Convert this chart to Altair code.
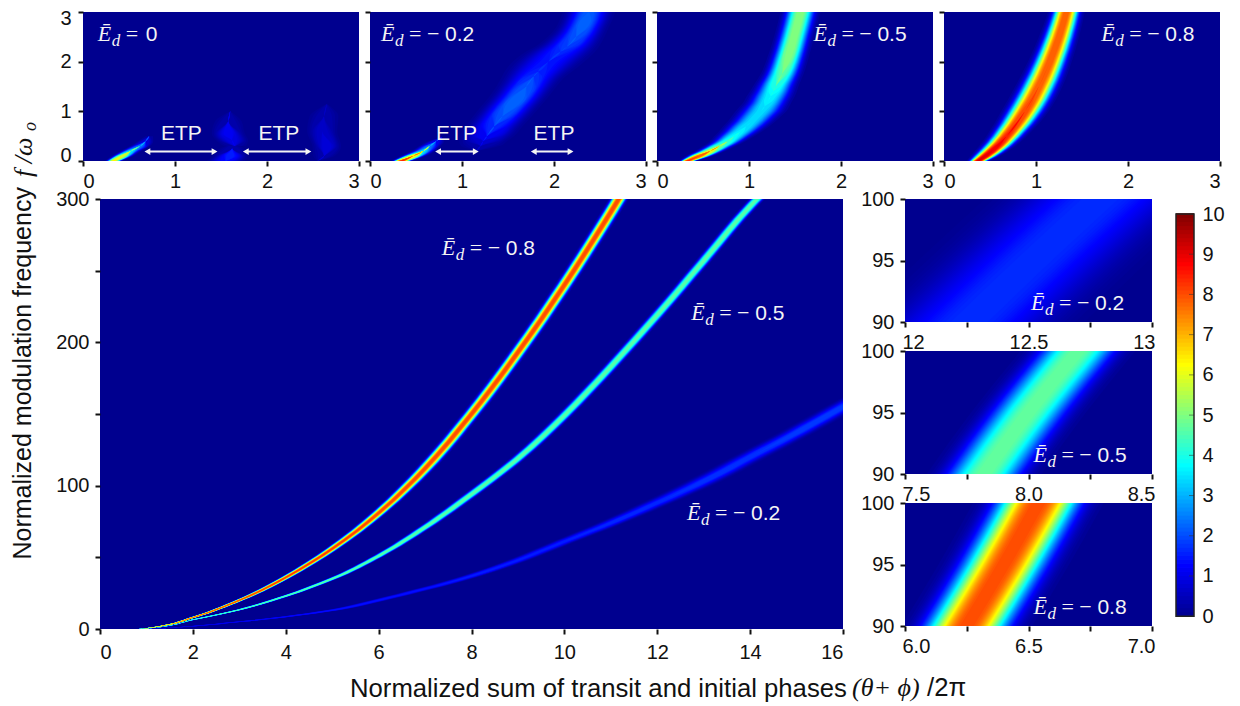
import math
import numpy as np
import pandas as pd
import altair as alt

SANS = "Liberation Sans"
SERIF = "Liberation Serif"
WHITE = "#f4f4f4"

# Colour scale
CB_STOPS = [0, 1.25, 3.75, 6.25, 8.75, 10]
CB_COLORS = ["#00008f", "#0000ff", "#00ffff", "#ffff00", "#ff0000", "#800000"]

# Ridge readings: f = frequency, c = ridge centre, p = peak value, w = full width at half peak
# Main panel
M8_F = [0, 2, 8, 20, 36, 56, 81, 112, 150, 193, 240, 291, 300]
M8_C = [0.85, 1.3, 2, 3, 4, 5, 6, 7, 8, 9, 10, 11, 11.17]
M8_P = [5, 7, 8, 8.2, 8.3, 8.3, 8.2, 8.2, 8.2, 8.2, 8.2, 8.2, 8.2]
M8_W = [0.04, 0.06, 0.08, 0.11, 0.14, 0.17, 0.2, 0.23, 0.23, 0.23, 0.23, 0.23, 0.23]
M5_F = [0, 0.3, 6.5, 13.5, 23, 35, 51, 71, 94, 119, 149, 183, 219, 257, 295, 300]
M5_C = [0.9, 1, 2, 3, 4, 5, 6, 7, 8, 9, 10, 11, 12, 13, 14, 14.15]
M5_P = [3, 3.5, 4.5, 4.7, 4.8, 4.8, 4.8, 4.8, 4.8, 4.8, 4.8, 4.8, 4.8, 4.8, 4.8, 4.8]
M5_W = [0.05, 0.05, 0.07, 0.09, 0.11, 0.13, 0.15, 0.18, 0.2, 0.2, 0.2, 0.2, 0.2, 0.2, 0.2, 0.2]
M2_F = [0, 2, 5, 8.5, 13, 20, 28, 37, 48, 61, 74, 88, 103, 120, 137, 155, 162]
M2_C = [1, 2, 3, 4, 5, 6, 7, 8, 9, 10, 11, 12, 13, 14, 15, 16, 16.4]
M2_P = [0.8, 1.2, 1.3, 1.4, 1.5, 1.5, 1.5, 1.6, 1.6, 1.6, 1.7, 1.7, 1.8, 1.8, 1.9, 1.9, 1.9]
M2_W = [0.1, 0.12, 0.14, 0.16, 0.19, 0.22, 0.24, 0.26, 0.28, 0.31, 0.35, 0.4, 0.45, 0.45, 0.45, 0.45, 0.45]

# Top panels
T0A_F = [0, 0.1, 0.2, 0.3, 0.4, 0.5]
T0A_C = [0.33, 0.43, 0.52, 0.62, 0.68, 0.72]
T0A_P = [6.5, 6, 3.6, 2.5, 1, 0.3]
T0A_W = [0.1, 0.13, 0.13, 0.13, 0.12, 0.1]
T0B_F = [0, 0.1, 0.25, 0.35]
T0B_C = [1.55, 1.6, 1.62, 1.62]
T0B_P = [1.3, 1.6, 0.4, 0.05]
T0B_W = [0.25, 0.22, 0.2, 0.2]
T0C_F = [0.3, 0.42, 0.55, 0.8, 1.0]
T0C_C = [1.65, 1.62, 1.58, 1.58, 1.6]
T0C_P = [0.3, 1.0, 1.2, 0.4, 0.1]
T0C_W = [0.2, 0.22, 0.22, 0.22, 0.2]
T0D_F = [0, 0.1, 0.3, 0.6, 0.9, 1.15]
T0D_C = [2.55, 2.62, 2.65, 2.6, 2.62, 2.65]
T0D_P = [0.1, 0.4, 0.9, 0.7, 0.4, 0.1]
T0D_W = [0.15, 0.18, 0.2, 0.22, 0.24, 0.2]

T2A_F = [0, 0.1, 0.2, 0.3, 0.4, 0.48]
T2A_C = [0.34, 0.47, 0.58, 0.65, 0.72, 0.78]
T2A_P = [8.5, 6.5, 3.5, 2.5, 1.2, 0.2]
T2A_W = [0.12, 0.15, 0.15, 0.14, 0.12, 0.1]
T2B_F = [0.2, 0.3, 0.4, 0.5, 0.7, 0.9, 1.1, 1.3, 1.5, 1.7, 1.8, 2.0, 2.2, 2.3, 2.5, 2.7, 2.85, 3.0]
T2B_C = [1.16, 1.2, 1.23, 1.27, 1.35, 1.44, 1.53, 1.62, 1.7, 1.78, 1.83, 1.94, 2.07, 2.14, 2.24, 2.31, 2.35, 2.38]
T2B_P = [0.1, 0.4, 0.8, 1.2, 1.7, 2.1, 2.3, 2.3, 2.1, 1.75, 1.6, 1.5, 1.65, 1.85, 2.1, 2.3, 2.3, 2.2]
T2B_W = [0.28, 0.32, 0.34, 0.36, 0.36, 0.36, 0.36, 0.36, 0.37, 0.4, 0.43, 0.46, 0.44, 0.4, 0.35, 0.32, 0.32, 0.32]

T5_F = [0, 0.1, 0.2, 0.3, 0.4, 0.5, 0.6, 0.7, 0.8, 0.9, 1.0, 1.1, 1.2, 1.3, 1.4, 1.5, 1.75, 2.0, 2.5, 3.0]
T5_C = [0.33, 0.46, 0.58, 0.68, 0.77, 0.84, 0.91, 0.97, 1.03, 1.08, 1.13, 1.17, 1.205, 1.235, 1.265, 1.29, 1.36, 1.41, 1.49, 1.56]
T5_P = [8.5, 8, 6.2, 5, 4.3, 3.9, 3.7, 3.6, 3.5, 3.5, 3.5, 3.6, 3.7, 3.8, 4, 4.2, 4.7, 5.1, 5.2, 5.2]
T5_W = [0.1, 0.16, 0.18, 0.2, 0.22, 0.25, 0.27, 0.29, 0.3, 0.31, 0.32, 0.31, 0.3, 0.3, 0.29, 0.28, 0.26, 0.25, 0.24, 0.24]

T8_F = [0, 0.1, 0.25, 0.5, 1.0, 1.5, 2.0, 2.5, 3.0]
T8_C = [0.37, 0.45, 0.55, 0.68, 0.88, 1.03, 1.15, 1.25, 1.33]
T8_P = [9.3, 9.2, 9, 8.5, 8.2, 8, 8, 8, 8]
T8_W = [0.13, 0.17, 0.2, 0.23, 0.27, 0.27, 0.25, 0.23, 0.21]

# Inset panels
I_F = [90, 95, 100]
I2_C = [12.26, 12.52, 12.79]
I2_P = [1.7, 1.7, 1.7]
I2_W = [0.5, 0.5, 0.5]
I5_C = [7.82, 8.0, 8.2]
I5_P = [4.8, 4.8, 4.8]
I5_W = [0.24, 0.24, 0.24]
I8_C = [6.25, 6.4, 6.54]
I8_P = [8.1, 8.1, 8.1]
I8_W = [0.26, 0.26, 0.26]

# Tick labels
TOP_TICKS = [0, 1, 2, 3]
MAIN_X_TICKS = [0, 2, 4, 6, 8, 10, 12, 14, 16]
MAIN_Y_TICKS = [0, 50, 100, 150, 200, 250, 300]
INSET_Y_TICKS = [90, 92.5, 95, 97.5, 100]
CB_TICKS = list(range(11))

# Annotations: x, f, number, horizontal offset of the number
LAB_T0 = (0.16, 2.42, "0", 48, "=")
LAB_T2 = (0.12, 2.42, "0.2", 64, "= \u2212")
LAB_T5 = (1.70, 2.42, "0.5", 64, "= \u2212")
LAB_T8 = (1.71, 2.42, "0.8", 64, "= \u2212")
LAB_M8 = (7.36, 261, "0.8", 64, "= \u2212")
LAB_M5 = (12.73, 215.6, "0.5", 64, "= \u2212")
LAB_M2 = (12.64, 76, "0.2", 64, "= \u2212")
LAB_I2 = (12.51, 91, "0.2", 64, "= \u2212")
LAB_I5 = (8.02, 91, "0.5", 64, "= \u2212")
LAB_I8 = (6.52, 91, "0.8", 64, "= \u2212")

ETP_T0_X = [1.07, 2.13]
ETP_T0_A = [(0.70, 1.43), (1.77, 2.45)]
ETP_T2_X = [0.94, 2.0]
ETP_T2_A = [(0.74, 1.15), (1.78, 2.18)]
ETP_TEXT_F = 0.42
ETP_ARROW_F = 0.19

XT = "Normalized sum of transit and initial phases"
YT = "Normalized modulation frequency"

SHAPE = 2.6

cmap = alt.Scale(domain=CB_STOPS, range=CB_COLORS, interpolate="rgb", clamp=True)


def ridge(name, f, c, p, w, step=0.2):
    rows = []
    for n, lev in enumerate(np.arange(step, max(p), step)):
        for fi, ci, pi, wi in zip(f, c, p, w):
            hw = 0.0
            if pi > lev:
                hw = wi / 2 * (math.log(pi / lev) / math.log(2)) ** (1 / SHAPE)
            rows.append(dict(grp=f"{name}{n:03d}", level=float(lev), f=fi, x0=ci - hw, x1=ci + hw))
    return rows


def label_layers(lab):
    x, f, num, ndx, eq = lab
    d = pd.DataFrame([dict(x=x, f=f)])
    enc = dict(x=alt.X("x:Q", title=None), y=alt.Y("f:Q", title=None))
    base = alt.Chart(d)
    return [
        base.mark_text(text="\u0112", font=SERIF, fontStyle="italic", fontSize=22, color=WHITE, align="left", baseline="alphabetic").encode(**enc),
        base.mark_text(text="d", font=SERIF, fontStyle="italic", fontSize=17, color=WHITE, align="left", baseline="alphabetic", dx=14, dy=5).encode(**enc),
        base.mark_text(text=eq, font=SERIF, fontSize=22, color=WHITE, align="left", baseline="alphabetic", dx=28).encode(**enc),
        base.mark_text(text=num, font=SANS, fontSize=21, color=WHITE, align="left", baseline="alphabetic", dx=ndx).encode(**enc),
    ]


def etp_layers(xs, arrows):
    out = []
    t = pd.DataFrame(dict(x=xs, f=[ETP_TEXT_F] * len(xs), s=["ETP"] * len(xs)))
    out.append(alt.Chart(t).mark_text(font=SANS, fontSize=21, color=WHITE, baseline="alphabetic").encode(
        x=alt.X("x:Q", title=None), y=alt.Y("f:Q", title=None), text="s:N"))
    a = pd.DataFrame([dict(a=l, b=r, f=ETP_ARROW_F) for l, r in arrows])
    out.append(alt.Chart(a).mark_rule(color=WHITE, strokeWidth=2).encode(
        x=alt.X("a:Q", title=None), x2="b:Q", y=alt.Y("f:Q", title=None)))
    out.append(alt.Chart(a).mark_point(shape="triangle-left", filled=True, color=WHITE, opacity=1, size=45).encode(
        x=alt.X("a:Q", title=None), y=alt.Y("f:Q", title=None)))
    out.append(alt.Chart(a).mark_point(shape="triangle-right", filled=True, color=WHITE, opacity=1, size=45).encode(
        x=alt.X("b:Q", title=None), y=alt.Y("f:Q", title=None)))
    return out


def spacer(x0=None, y0=None):
    if x0 is not None:
        enc = dict(x=alt.value(x0), x2=alt.value(x0 + 1), y=alt.value(1))
    else:
        enc = dict(x=alt.value(1), y=alt.value(y0), y2=alt.value(y0 + 1))
    return alt.Chart(pd.DataFrame([dict(a=0)])).mark_rule(opacity=0).encode(**enc)


def panel(rows, xdom, ydom, xaxis, yaxis, w, h, extra=()):
    area = alt.Chart(pd.DataFrame(rows)).mark_area(orient="horizontal", interpolate="monotone", clip=True).encode(
        y=alt.Y("f:Q", scale=alt.Scale(domain=ydom, nice=False, zero=False), axis=yaxis),
        x=alt.X("x0:Q", scale=alt.Scale(domain=xdom, nice=False, zero=False), axis=xaxis),
        x2="x1:Q",
        color=alt.Color("level:Q", scale=cmap, legend=None),
        detail="grp:N",
    )
    return alt.layer(area, *extra).properties(width=w, height=h)


top_x = alt.Axis(values=TOP_TICKS, title=None, format="d", labelPadding=5)
top_y = alt.Axis(values=TOP_TICKS, title=None, format="d", labelPadding=7, labelFlush=True, labelFlushOffset=4)
top_y_n = alt.Axis(values=TOP_TICKS, title=None, labels=False)
TW, TH = 276, 149

ylab_f = alt.Chart(pd.DataFrame([dict(a=0)])).mark_text(
    text="f /\u03c9", font=SERIF, fontStyle="italic", fontSize=26, angle=270, align="left", baseline="alphabetic", color="#111"
).encode(x=alt.value(32 - 83.5), y=alt.value(177 - 12))
ylab_o = alt.Chart(pd.DataFrame([dict(a=0)])).mark_text(
    text="o", font=SERIF, fontStyle="italic", fontSize=18, angle=270, align="left", baseline="alphabetic", color="#111"
).encode(x=alt.value(36 - 83.5), y=alt.value(131 - 12))

t0 = panel(
    ridge("a", T0A_F, T0A_C, T0A_P, T0A_W) + ridge("b", T0B_F, T0B_C, T0B_P, T0B_W, 0.1)
    + ridge("c", T0C_F, T0C_C, T0C_P, T0C_W, 0.1) + ridge("d", T0D_F, T0D_C, T0D_P, T0D_W, 0.1),
    [0, 3], [0, 3], top_x, top_y, TW, TH,
    label_layers(LAB_T0) + etp_layers(ETP_T0_X, ETP_T0_A) + [ylab_f, ylab_o],
)
t2 = panel(
    ridge("b", T2B_F, T2B_C, T2B_P, T2B_W, 0.1) + ridge("z", T2A_F, T2A_C, T2A_P, T2A_W),
    [0, 3], [0, 3], top_x, top_y_n, TW, TH,
    label_layers(LAB_T2) + etp_layers(ETP_T2_X, ETP_T2_A),
)
t5 = panel(ridge("a", T5_F, T5_C, T5_P, T5_W), [0, 3], [0, 3], top_x, top_y_n, TW, TH, label_layers(LAB_T5))
t8 = panel(ridge("a", T8_F, T8_C, T8_P, T8_W), [0, 3], [0, 3], top_x, top_y_n, TW, TH, label_layers(LAB_T8))
top_row = alt.hconcat(t0, t2, t5, t8, spacing=4)

xlab = [
    alt.Chart(pd.DataFrame([dict(a=0)])).mark_text(text=XT, font=SANS, fontSize=25.7, align="left", baseline="alphabetic", color="#111").encode(
        x=alt.value(350 - 100), y=alt.value(697 - 199.5)),
    alt.Chart(pd.DataFrame([dict(a=0)])).mark_text(text=YT, font=SANS, fontSize=25, angle=270, align="left", baseline="alphabetic", color="#111").encode(
        x=alt.value(31 - 100), y=alt.value(560 - 199.5)),
]
xlab_right = [
    alt.Chart(pd.DataFrame([dict(a=0)])).mark_text(text="(\u03b8+ \u03d5)", font=SERIF, fontStyle="italic", fontSize=26, align="left", baseline="alphabetic", color="#111").encode(
        x=alt.value(852 - 905), y=alt.value(697 - 504.5)),
    alt.Chart(pd.DataFrame([dict(a=0)])).mark_text(text="/2\u03c0", font=SANS, fontSize=25.7, align="left", baseline="alphabetic", color="#111").encode(
        x=alt.value(927 - 905), y=alt.value(697 - 504.5)),
]

main = panel(
    ridge("a", M2_F, M2_C, M2_P, M2_W, 0.1) + ridge("b", M5_F, M5_C, M5_P, M5_W) + ridge("c", M8_F, M8_C, M8_P, M8_W),
    [0, 16], [0, 300],
    alt.Axis(values=MAIN_X_TICKS, title=None, format="d", labelPadding=8),
    alt.Axis(values=MAIN_Y_TICKS, title=None, labelPadding=6, labelExpr="datum.value % 100 == 0 ? datum.label : ''"),
    743, 430,
    label_layers(LAB_M8) + label_layers(LAB_M5) + label_layers(LAB_M2) + xlab,
)
blank = spacer(x0=1).properties(width=16.5, height=1, view=alt.ViewConfig(fill="transparent"))
main_cell = alt.hconcat(blank, main, spacing=0, bounds="flush")


def inset(c, p, w, dom, lab, step_values, fmt, step=0.2, extra=()):
    return panel(
        ridge("a", I_F, c, p, w, step), dom, [90, 100],
        alt.Axis(values=step_values, title=None, labelPadding=5, labelFlush=True, labelFlushOffset=3,
                 labelExpr=f"(datum.value * 2) % 1 == 0 ? format(datum.value, '{fmt}') : ''"),
        alt.Axis(values=INSET_Y_TICKS, title=None, labelPadding=6, labelExpr="datum.value % 5 == 0 ? datum.label : ''"),
        247, 123, label_layers(lab) + list(extra),
    )


i2 = inset(I2_C, I2_P, I2_W, [12, 13], LAB_I2, [12, 12.25, 12.5, 12.75, 13], "", 0.05)
i5 = inset(I5_C, I5_P, I5_W, [7.5, 8.5], LAB_I5, [7.5, 7.75, 8, 8.25, 8.5], ".1f", 0.1)
i8 = inset(I8_C, I8_P, I8_W, [6, 7], LAB_I8, [6, 6.25, 6.5, 6.75, 7], ".1f", 0.1, xlab_right)
insets = alt.vconcat(i2, i5, i8, spacing=29, bounds="flush")

# Colour bar
cb_v = np.arange(0, 10, 0.1)
cb_df = pd.DataFrame(dict(v=cb_v + 0.05, a=cb_v, b=cb_v + 0.12))
cb_y = alt.Scale(domain=[0, 10], nice=False, range=[417.2, 15])
cb_rect = alt.Chart(cb_df).mark_rect().encode(
    x=alt.value(0), x2=alt.value(18),
    y=alt.Y("a:Q", scale=cb_y, axis=alt.Axis(values=CB_TICKS, orient="right", title=None, ticks=False, labelPadding=8, format="d")),
    y2="b:Q",
    color=alt.Color("v:Q", scale=cmap, legend=None),
)
cb_ticks = alt.Chart(pd.DataFrame(dict(t=CB_TICKS))).mark_rule(color="#333333", opacity=0.55, strokeWidth=1).encode(
    x=alt.value(13), x2=alt.value(18), y=alt.Y("t:Q", scale=cb_y, title=None))
cb_box = alt.Chart(pd.DataFrame([dict(a=0, b=10)])).mark_rect(filled=False, stroke="#222222", strokeWidth=1.5).encode(
    x=alt.value(0), x2=alt.value(18), y=alt.Y("a:Q", scale=cb_y, title=None), y2="b:Q")
cbar = alt.layer(cb_rect, cb_ticks, cb_box, spacer(x0=-16)).properties(
    width=18, height=417.2, view=alt.ViewConfig(fill="transparent"))

bottom_row = alt.hconcat(main_cell, insets, cbar, spacing=5)

chart = alt.vconcat(top_row, bottom_row, spacing=-4).properties(
    padding={"left": 2, "top": 0, "right": 0, "bottom": 0}
).configure_view(fill="#00008f", stroke=None).configure_axis(
    labelFont=SANS, labelFontSize=20, labelColor="#111111", tickColor="#111111", tickWidth=2, tickSize=5,
    domain=False, grid=False,
).configure_concat(spacing=4)

chart.save("out.html", embed_options={"renderer": "svg", "actions": False})
